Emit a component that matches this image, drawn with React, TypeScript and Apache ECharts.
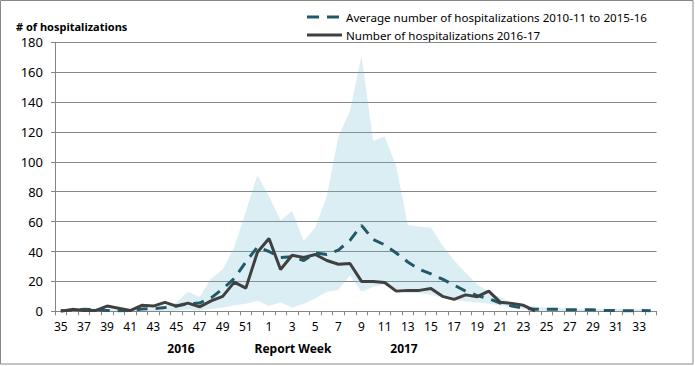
import React, { useEffect, useRef } from "react";
import * as echarts from "echarts";

const weeks = [
  "35", "36", "37", "38", "39", "40", "41", "42", "43", "44", "45", "46", "47", "48", "49", "50", "51", "52",
  "1", "2", "3", "4", "5", "6", "7", "8", "9", "10", "11", "12", "13", "14", "15", "16", "17",
  "18", "19", "20", "21", "22", "23", "24", "25", "26", "27", "28", "29", "30", "31", "32", "33", "34",
];

const avgName = "Average number of hospitalizations 2010-11 to 2015-16";
const curName = "Number of hospitalizations 2016-17";

const avgHosp = [
  0.3, 0.8, 1.3, 1, 0.5, 0.3, 0.5, 1.5, 1.8, 2.5, 3.5, 5, 5.5, 9, 15, 22, 33, 43,
  40, 36, 36.5, 34, 39, 38, 41, 47.5, 57.5, 48, 44.5, 39, 33, 28, 25, 21.5, 17.5,
  13.5, 10.5, 8.5, 5.5, 3.5, 2, 1.3, 1.3, 1.3, 1, 1, 1, 0.5, 0.5, 0.3, 0.5, 0.3,
];

const hosp2016 = [
  0, 1.3, 0.5, 0.5, 3.5, 2, 0.5, 4, 3.5, 6, 3.5, 5.5, 3, 7, 10, 19.5, 15.5, 39.5,
  48.7, 28, 37.5, 36, 38, 34, 31.5, 32, 20, 20, 19.3, 13.5, 14, 14, 15.3, 10, 8,
  11, 9.8, 13.5, 6, 5.3, 4, 0.3, null, null, null, null, null, null, null, null, null, null,
];

const rangeMax = [
  1, 1.5, 2, 2, 1.5, 1, 1, 1.5, 2, 3, 6, 13, 9.5, 22, 28, 43, 67, 91,
  77, 61, 67, 47, 56, 77, 117, 134, 171, 114, 117, 97, 57.5, 56.5, 56, 44, 34,
  26, 18, 13, 9, 6, 4, 3, 2.5, 2, 2, 1.5, 1.5, 1.5, 1.5, 1.5, 1.5, 1,
];

const rangeMin = [
  0, 0, 0, 0, 0, 0, 0, 0, 0, 0, 0.5, 1, 0.5, 1.5, 2.5, 4, 5, 7,
  3.5, 6, 2.5, 5, 8.5, 13, 14.5, 24, 13, 16.5, 18, 13, 12, 12, 11, 9, 7.5,
  6.5, 6, 5, 4, 3, 1.5, 0.5, 0, 0, 0, 0, 0, 0, 0, 0, 0, 0,
];

const FONT = "'Noto Sans', sans-serif";
const AVG_COLOR = "#215968";
const CUR_COLOR = "#404040";

export default function App() {
  const ref = useRef<HTMLDivElement>(null);
  useEffect(() => {
    const chart = echarts.init(ref.current!, null, { renderer: "svg" });
    const rangeSpan = rangeMax.map((v, i) => +(v - rangeMin[i]).toFixed(2));
    chart.setOption({
      animation: false,
      backgroundColor: "#ffffff",
      textStyle: { fontFamily: FONT },
      grid: { left: 55, right: 38.5, top: 42.3, bottom: 54.7, containLabel: false, outerBoundsMode: "none" },
      xAxis: {
        type: "category",
        data: weeks,
        boundaryGap: true,
        axisLine: { lineStyle: { color: "#868686", width: 1 } },
        axisTick: { show: true, interval: 0, length: 4, lineStyle: { color: "#868686" } },
        axisLabel: { interval: 1, fontSize: 12, color: "#000", margin: 9, fontFamily: FONT },
      },
      yAxis: {
        type: "value",
        min: 0,
        max: 180,
        interval: 20,
        axisLine: { show: true, lineStyle: { color: "#868686", width: 1 } },
        axisTick: { show: true, length: 4, lineStyle: { color: "#868686" } },
        axisLabel: { fontSize: 13, color: "#000", margin: 12, fontFamily: FONT },
        splitLine: { lineStyle: { color: "#868686", width: 1 } },
      },
      series: [
        {
          name: "rangeLow",
          type: "line",
          stack: "band",
          data: rangeMin,
          symbol: "none",
          silent: true,
          lineStyle: { opacity: 0, width: 0 },
          areaStyle: { opacity: 0 },
        },
        {
          name: "rangeBand",
          type: "line",
          stack: "band",
          data: rangeSpan,
          symbol: "none",
          silent: true,
          lineStyle: { opacity: 0, width: 0 },
          areaStyle: { color: "rgba(107,187,207,0.25)", opacity: 1 },
        },
        {
          name: avgName,
          type: "line",
          data: avgHosp,
          symbol: "none",
          color: AVG_COLOR,
          lineStyle: { color: AVG_COLOR, width: 3, type: [11, 8] },
        },
        {
          name: curName,
          type: "line",
          data: hosp2016,
          symbol: "none",
          color: CUR_COLOR,
          lineStyle: { color: CUR_COLOR, width: 3 },
        },
      ],
      graphic: [
        {
          type: "rect",
          shape: { x: 0.5, y: 0.5, width: 692.5, height: 363.5 },
          style: { fill: "none", stroke: "#888888", lineWidth: 1 },
          silent: true,
        },
        {
          type: "line",
          shape: { x1: 307, y1: 17, x2: 341, y2: 17 },
          style: { stroke: AVG_COLOR, lineWidth: 3, lineDash: [12, 8] },
        },
        {
          type: "text",
          x: 346,
          y: 17,
          style: { text: avgName, fontSize: 11.6, fill: "#000", fontFamily: FONT, verticalAlign: "middle", align: "left" },
        },
        {
          type: "line",
          shape: { x1: 307, y1: 35, x2: 342, y2: 35 },
          style: { stroke: CUR_COLOR, lineWidth: 3 },
        },
        {
          type: "text",
          x: 346,
          y: 35,
          style: { text: curName, fontSize: 11.6, fill: "#000", fontFamily: FONT, verticalAlign: "middle", align: "left" },
        },
        {
          type: "text",
          x: 16,
          y: 26,
          style: { text: "# of hospitalizations", fontSize: 11, fontWeight: "bold", fill: "#000", fontFamily: FONT, verticalAlign: "middle", align: "left" },
        },
        {
          type: "text",
          x: 181,
          y: 348,
          style: { text: "2016", fontSize: 12, fontWeight: "bold", fill: "#000", fontFamily: FONT, verticalAlign: "middle", align: "center" },
        },
        {
          type: "text",
          x: 293,
          y: 348,
          style: { text: "Report Week", fontSize: 12, fontWeight: "bold", fill: "#000", fontFamily: FONT, verticalAlign: "middle", align: "center" },
        },
        {
          type: "text",
          x: 404,
          y: 348,
          style: { text: "2017", fontSize: 12, fontWeight: "bold", fill: "#000", fontFamily: FONT, verticalAlign: "middle", align: "center" },
        },
      ],
    });
    return () => chart.dispose();
  }, []);
  return <div ref={ref} style={{ position: "fixed", left: 0, top: 0, width: 695, height: 366 }} />;
}
